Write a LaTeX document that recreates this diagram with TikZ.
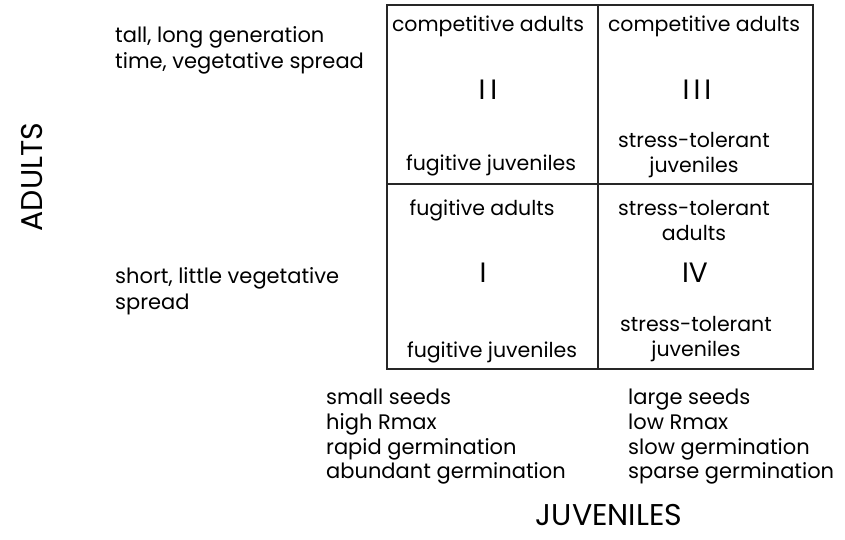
\documentclass[tikz,border=0pt]{standalone}
\usepackage{fontspec}
\setmainfont{Poppins}
\usetikzlibrary{positioning}

\tikzset{
  txt/.style={font=\fontsize{20.5}{25}\selectfont, inner sep=0pt, align=center},
  side/.style={font=\fontsize{21}{26}\selectfont, inner sep=0pt, align=left, anchor=west},
  numeral/.style={font=\fontsize{28}{28}\selectfont, inner sep=0pt},
  axislbl/.style={font=\fontsize{30}{30}\selectfont, inner sep=0pt},
  grid/.style={line width=1.1pt, black!85},
}

\begin{document}
\begin{tikzpicture}[x=1pt,y=-1pt]
    \useasboundingbox (0,0) rectangle (845,540);
    % box corners
    \coordinate (tl) at (387,5);
    \coordinate (br) at (813,369);
    \coordinate (tm) at (598,5);
    \coordinate (bm) at (598,369);
    \coordinate (ml) at (387,184);
    \coordinate (mr) at (813,184);
    \draw[grid] (tl) rectangle (br);
    \draw[grid] (tm) -- (bm);
    \draw[grid] (ml) -- (mr);

    % top left cell
    \node[txt] (compA) at (488,26) {competitive adults};
    \node[numeral] (two) at (488,90) {I\hspace{5pt}I};
    \node[txt] (fugJA) at (491,165) {fugitive juveniles};
    % top right cell
    \node[txt] (compB) at (704,26) {competitive adults};
    \node[numeral] (three) at (697,90) {I\hspace{4pt}I\hspace{4pt}I};
    \node[txt] (stJA) at (694,155) {stress-tolerant\\juveniles};
    % bottom left cell
    \node[txt] (fugA) at (482,210) {fugitive adults};
    \node[numeral] (one) at (483,273) {I};
    \node[txt] (fugJB) at (492,352) {fugitive juveniles};
    % bottom right cell
    \node[txt] (stA) at (694,221) {stress-tolerant\\adults};
    \node[numeral] (four) at (695,273) {IV};
    \node[txt] (stJB) at (696,339) {stress-tolerant\\juveniles};

    % adult traits
    \node[side] (tall) at (115,50) {tall, long generation\\time, vegetative spread};
    \node[side] (short) at (115,291) {short, little vegetative\\spread};

    % juvenile traits
    \node[side, font=\fontsize{21}{24.7}\selectfont] (small) at (326,437) {small seeds\\high Rmax\\rapid germination\\abundant germination};
    \node[side, font=\fontsize{21}{24.7}\selectfont] (large) at (628,437) {large seeds\\low Rmax\\slow germination\\sparse germination};

    \node[axislbl, rotate=90] (adults) at (32,177) {ADULTS};
    \node[axislbl] (juv) at (609,515) {JUVENILES};
\end{tikzpicture}
\end{document}
